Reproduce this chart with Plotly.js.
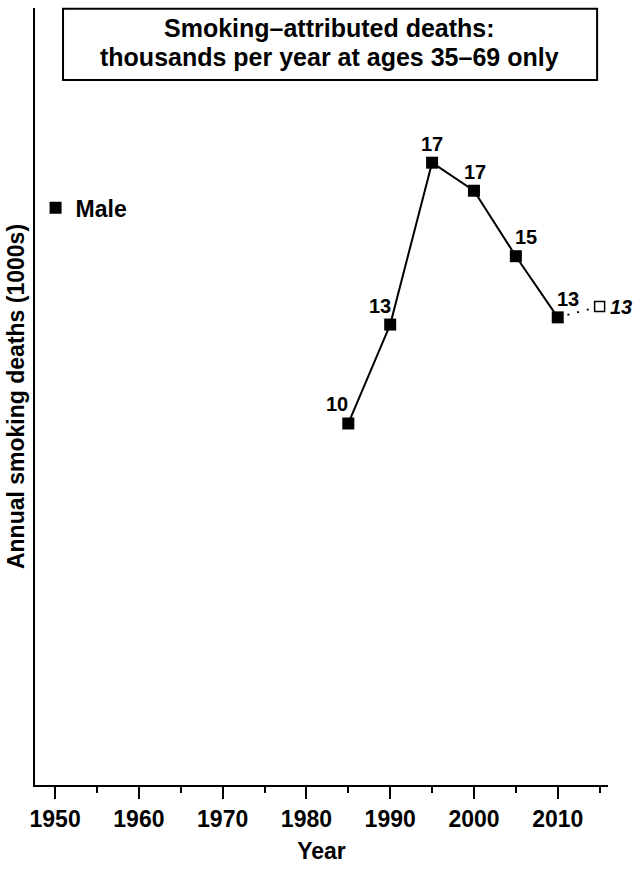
<!DOCTYPE html>
<html>
<head>
<meta charset="utf-8">
<script src="https://cdn.plot.ly/plotly-3.0.1.min.js"></script>
<style>html,body{margin:0;padding:0;background:#fff;}#chart{width:640px;height:871px;}</style>
</head>
<body>
<div id="chart"></div>
<script>
// Observed male smoking-attributed deaths (thousands, ages 35-69)
const years = [1985, 1990, 1995, 2000, 2005, 2010];
const deaths = [10.05, 12.8, 17.3, 16.52, 14.7, 13.0];
// Projection
const projYears = [2010, 2015];
const projDeaths = [13.0, 13.3];
const seriesName = 'Male';
const xTicks = [1950, 1960, 1970, 1980, 1990, 2000, 2010];

const titleLine1 = 'Smoking\u2013attributed deaths:';
const titleLine2 = 'thousands per year at ages 35\u201369 only';
const yTitle = 'Annual smoking deaths (1000s)';
const xTitle = 'Year';

const FONT = 'Liberation Sans, Arial, Helvetica, sans-serif';

// label offsets (px) for each observed point, styling only
const labelShiftX = [-11, -10, 0, 1, 10, 10];
const labelShiftY = [19, 19, 19, 19, 19, 18];

const traces = [
  {x: years, y: deaths, mode: 'lines', line: {color: '#000', width: 2}, showlegend: false, hoverinfo: 'skip'},
  {x: projYears, y: projDeaths, mode: 'lines', line: {color: '#000', width: 2, dash: '2px,8px'}, showlegend: false, hoverinfo: 'skip'},
  {x: years, y: deaths, mode: 'markers', name: seriesName,
   marker: {symbol: 'square', size: 12, color: '#000'}},
  {x: projYears.slice(1), y: projDeaths.slice(1), mode: 'markers', showlegend: false,
   marker: {symbol: 'square', size: 10, color: '#fff', line: {width: 1.5, color: '#000'}}}
];

const labelFont = {family: FONT, size: 20, color: '#000', weight: 'bold'};
const annotations = years.map((yr, i) => ({
  x: yr, y: deaths[i], xref: 'x', yref: 'y', text: String(Math.round(deaths[i])),
  showarrow: false, xanchor: 'center', yanchor: 'middle',
  xshift: labelShiftX[i], yshift: labelShiftY[i], font: labelFont
}));
annotations.push({
  x: projYears[1], y: projDeaths[1], xref: 'x', yref: 'y',
  text: '<i>' + String(Math.round(projDeaths[1])) + '</i>',
  showarrow: false, xanchor: 'left', yanchor: 'middle', xshift: 8, yshift: 0, font: labelFont
});
const titleFont = {family: FONT, size: 25, color: '#000', weight: 'bold'};
annotations.push({x: 0.5148, y: 0.9743, xref: 'paper', yref: 'paper', text: titleLine1,
  showarrow: false, xanchor: 'center', yanchor: 'middle', font: titleFont});
annotations.push({x: 0.5148, y: 0.937, xref: 'paper', yref: 'paper', text: titleLine2,
  showarrow: false, xanchor: 'center', yanchor: 'middle', font: titleFont});

const layout = {
  width: 640, height: 871,
  margin: {l: 35, r: 32, t: 8, b: 86},
  paper_bgcolor: '#fff', plot_bgcolor: '#fff',
  font: {family: FONT, color: '#000'},
  showlegend: true,
  legend: {x: 0.001, y: 0.743, xanchor: 'left', yanchor: 'middle', bgcolor: 'rgba(0,0,0,0)',
           borderwidth: 0, font: {family: FONT, size: 23, color: '#000', weight: 'bold'}},
  xaxis: {
    range: [1947.6, 2016], tickmode: 'array', tickvals: xTicks, ticktext: xTicks.map(String),
    ticks: 'outside', ticklen: 12, tickwidth: 2, tickcolor: '#000',
    showline: true, linewidth: 2, linecolor: '#000', showgrid: false, zeroline: false,
    tickfont: {family: FONT, size: 23, color: '#000', weight: 'bold'},
    minor: {dtick: 5, tick0: 1950, ticks: 'outside', ticklen: 6, tickwidth: 2, tickcolor: '#000', showgrid: false},
    title: {text: xTitle, standoff: 12, font: {family: FONT, size: 23, color: '#000', weight: 'bold'}}
  },
  yaxis: {
    range: [0, 21.6], showline: true, linewidth: 2, linecolor: '#000',
    ticks: '', showticklabels: false, showgrid: false, zeroline: false,
    title: {text: yTitle, standoff: 2, font: {family: FONT, size: 23, color: '#000', weight: 'bold'}}
  },
  shapes: [{type: 'rect', xref: 'paper', yref: 'paper', x0: 0.0489, x1: 0.981, y0: 0.9073, y1: 0.999,
            line: {color: '#000', width: 2}, fillcolor: 'rgba(0,0,0,0)'}],
  annotations: annotations
};

Plotly.newPlot('chart', traces, layout, {displayModeBar: false, staticPlot: true});
</script>
</body>
</html>
